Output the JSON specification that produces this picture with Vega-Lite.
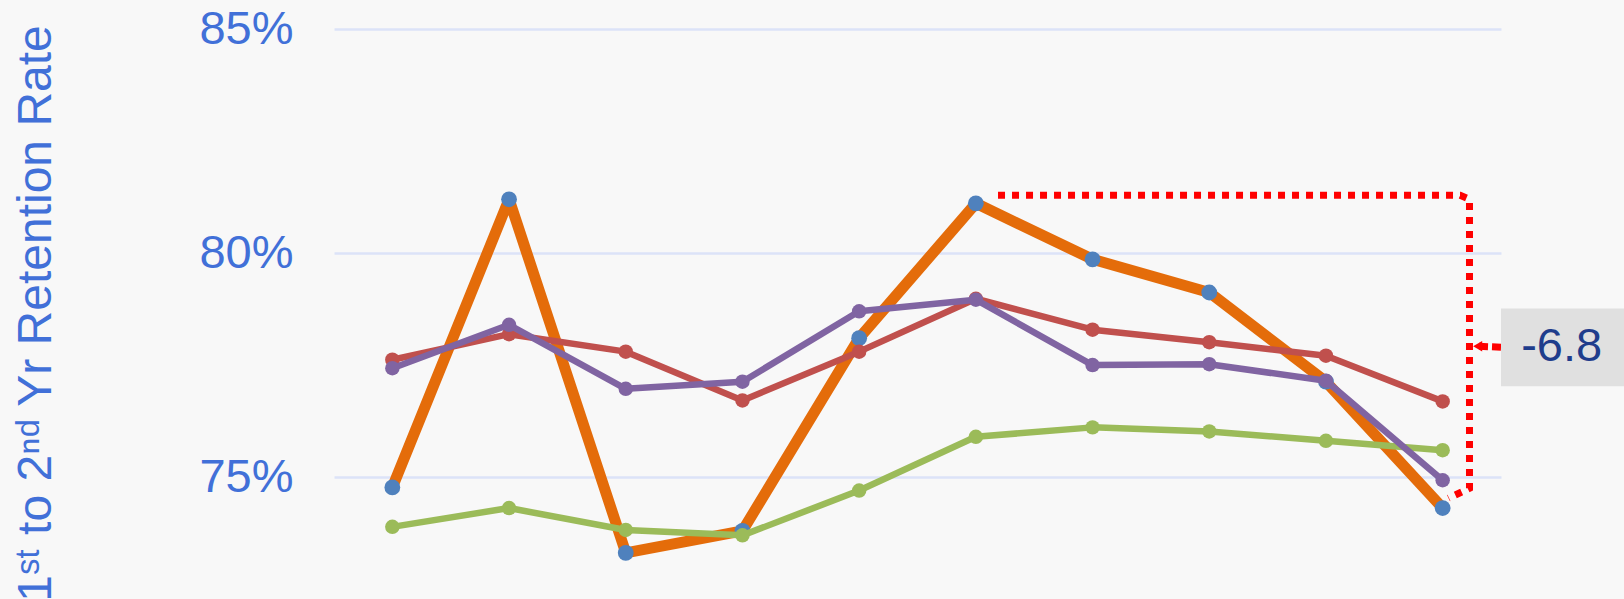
{
  "$schema": "https://vega.github.io/schema/vega-lite/v6.json",
  "autosize": {"type": "none"},
  "width": 1167,
  "height": 570,
  "padding": {"left": 334, "top": 29, "right": 123, "bottom": 0},
  "background": "#f8f8f8",
  "config": {"view": {"stroke": null}, "font": "Liberation Sans"},
  "datasets": {
    "series": [
      {"t": 1, "series": "Institution", "value": 74.77},
      {"t": 2, "series": "Institution", "value": 81.2},
      {"t": 3, "series": "Institution", "value": 73.31},
      {"t": 4, "series": "Institution", "value": 73.8},
      {"t": 5, "series": "Institution", "value": 78.1},
      {"t": 6, "series": "Institution", "value": 81.11},
      {"t": 7, "series": "Institution", "value": 79.86},
      {"t": 8, "series": "Institution", "value": 79.12},
      {"t": 9, "series": "Institution", "value": 77.13},
      {"t": 10, "series": "Institution", "value": 74.31},
      {"t": 1, "series": "Peer A", "value": 77.62},
      {"t": 2, "series": "Peer A", "value": 78.19},
      {"t": 3, "series": "Peer A", "value": 77.8},
      {"t": 4, "series": "Peer A", "value": 76.71},
      {"t": 5, "series": "Peer A", "value": 77.8},
      {"t": 6, "series": "Peer A", "value": 78.98},
      {"t": 7, "series": "Peer A", "value": 78.29},
      {"t": 8, "series": "Peer A", "value": 78.01},
      {"t": 9, "series": "Peer A", "value": 77.71},
      {"t": 10, "series": "Peer A", "value": 76.69},
      {"t": 1, "series": "Peer B", "value": 73.89},
      {"t": 2, "series": "Peer B", "value": 74.31},
      {"t": 3, "series": "Peer B", "value": 73.82},
      {"t": 4, "series": "Peer B", "value": 73.7},
      {"t": 5, "series": "Peer B", "value": 74.7},
      {"t": 6, "series": "Peer B", "value": 75.9},
      {"t": 7, "series": "Peer B", "value": 76.11},
      {"t": 8, "series": "Peer B", "value": 76.02},
      {"t": 9, "series": "Peer B", "value": 75.81},
      {"t": 10, "series": "Peer B", "value": 75.6},
      {"t": 1, "series": "Peer C", "value": 77.43},
      {"t": 2, "series": "Peer C", "value": 78.4},
      {"t": 3, "series": "Peer C", "value": 76.97},
      {"t": 4, "series": "Peer C", "value": 77.13},
      {"t": 5, "series": "Peer C", "value": 78.7},
      {"t": 6, "series": "Peer C", "value": 78.96},
      {"t": 7, "series": "Peer C", "value": 77.5},
      {"t": 8, "series": "Peer C", "value": 77.52},
      {"t": 9, "series": "Peer C", "value": 77.15},
      {"t": 10, "series": "Peer C", "value": 74.93}
    ],
    "bracket": [
      {"ord": 1, "t": 6.19, "value": 81.29},
      {"ord": 2, "t": 10.15, "value": 81.29},
      {"ord": 3, "t": 10.23, "value": 81.2},
      {"ord": 4, "t": 10.23, "value": 74.75},
      {"ord": 5, "t": 10.05, "value": 74.53}
    ],
    "arrow": [
      {"ord": 1, "t": 10.5, "value": 77.9},
      {"ord": 2, "t": 10.3, "value": 77.92}
    ],
    "label": [
      {"t": 10.5, "t2": 11.6, "value": 78.76, "value2": 77.03, "mid": 11.02, "vmid": 77.9, "text": "-6.8"}
    ]
  },
  "encoding": {
    "x": {"field": "t", "type": "quantitative", "scale": {"domain": [0.5, 10.5], "nice": false, "zero": false}, "axis": null},
    "y": {
      "field": "value", "type": "quantitative",
      "scale": {"domain": [72.28, 85], "nice": false, "zero": false},
      "axis": {
        "values": [75, 80, 85],
        "labelExpr": "datum.value + '%'",
        "labelFontSize": 47,
        "labelColor": "#4170d8",
        "labelPadding": 41,
        "ticks": false,
        "domain": false,
        "gridColor": "#dce3f8",
        "gridWidth": 2.5,
        "title": "1ˢᵗ to 2ⁿᵈ Yr Retention Rate",
        "titleFontSize": 48,
        "titleFontWeight": "normal",
        "titleColor": "#4170d8",
        "titleX": -284,
        "titleY": 284,
        "titleAlign": "center",
        "titleBaseline": "alphabetic",
        "titleAngle": -90
      }
    }
  },
  "layer": [
    {
      "data": {"name": "series"},
      "transform": [{"filter": "datum.series === 'Institution'"}],
      "mark": {"type": "line", "color": "#e46c0a", "strokeWidth": 11, "strokeJoin": "round", "point": {"filled": true, "color": "#4f81bd", "size": 250, "opacity": 1}}
    },
    {
      "data": {"name": "series"},
      "transform": [{"filter": "datum.series === 'Peer A'"}],
      "mark": {"type": "line", "color": "#c0504d", "strokeWidth": 6.5, "strokeJoin": "round", "point": {"filled": true, "color": "#c0504d", "size": 210, "opacity": 1}}
    },
    {
      "data": {"name": "series"},
      "transform": [{"filter": "datum.series === 'Peer B'"}],
      "mark": {"type": "line", "color": "#9bbb59", "strokeWidth": 6.5, "strokeJoin": "round", "point": {"filled": true, "color": "#9bbb59", "size": 210, "opacity": 1}}
    },
    {
      "data": {"name": "series"},
      "transform": [{"filter": "datum.series === 'Peer C'"}],
      "mark": {"type": "line", "color": "#8064a2", "strokeWidth": 6.5, "strokeJoin": "round", "point": {"filled": true, "color": "#8064a2", "size": 210, "opacity": 1}}
    },
    {
      "data": {"name": "bracket"},
      "mark": {"type": "line", "color": "#ff0000", "strokeWidth": 7, "strokeDash": [7, 7], "strokeCap": "butt", "strokeJoin": "miter"},
      "encoding": {"order": {"field": "ord", "type": "quantitative"}}
    },
    {
      "data": {"name": "arrow"},
      "mark": {"type": "line", "color": "#ff0000", "strokeWidth": 7, "strokeDash": [9, 4], "strokeCap": "butt"},
      "encoding": {"order": {"field": "ord", "type": "quantitative"}}
    },
    {
      "data": {"name": "arrow"},
      "transform": [{"filter": "datum.ord === 2"}],
      "mark": {"type": "point", "shape": "triangle-left", "filled": true, "color": "#ff0000", "size": 110, "opacity": 1}
    },
    {
      "data": {"name": "label"},
      "mark": {"type": "rect", "color": "#e0e0e0", "opacity": 1},
      "encoding": {
        "x": {"field": "t", "type": "quantitative"},
        "x2": {"field": "t2"},
        "y": {"field": "value", "type": "quantitative"},
        "y2": {"field": "value2"}
      }
    },
    {
      "data": {"name": "label"},
      "mark": {"type": "text", "fontSize": 47, "color": "#1f3d8c", "align": "center", "baseline": "middle"},
      "encoding": {
        "x": {"field": "mid", "type": "quantitative"},
        "y": {"field": "vmid", "type": "quantitative"},
        "text": {"field": "text"}
      }
    }
  ]
}
